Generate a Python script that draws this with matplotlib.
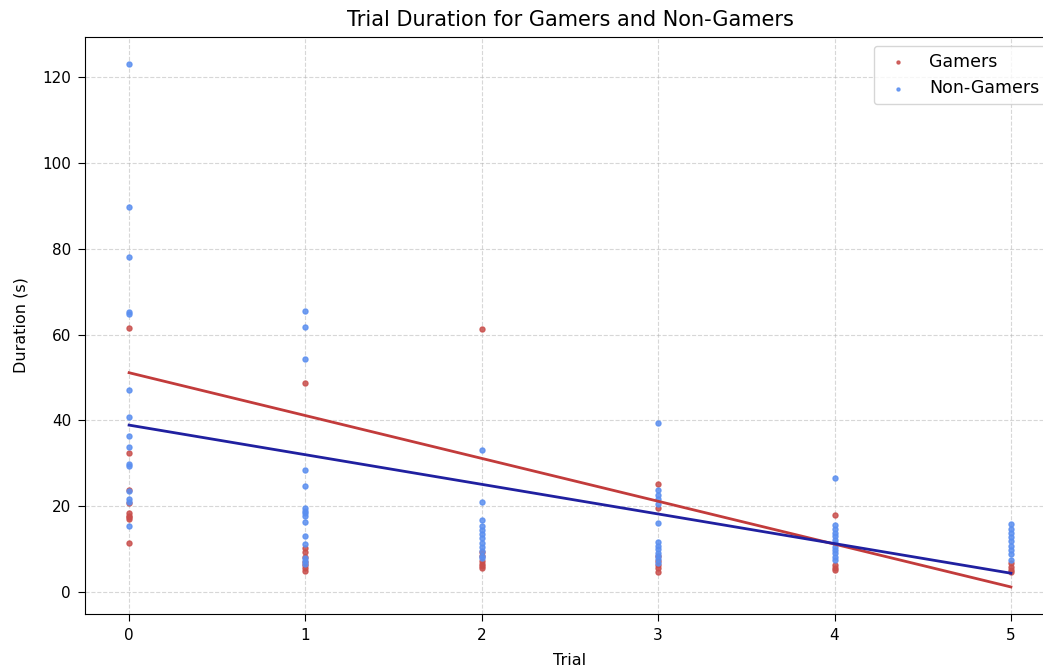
import numpy as np
import matplotlib.pyplot as plt

trials = [0, 1, 2, 3, 4, 5]

# trial durations (s) per trial
gamers = {
    0: [61.6, 32.5, 23.9, 20.7, 18.4, 17.8, 17.5, 17.0, 11.5],
    1: [48.6, 10.2, 9.4, 8.2, 7.0, 6.2, 5.5, 5.0],
    2: [61.4, 9.3, 8.5, 7.2, 6.5, 6.0, 5.5],
    3: [25.1, 19.7, 8.5, 7.2, 6.2, 5.5, 4.8],
    4: [17.9, 6.3, 5.6, 5.1],
    5: [6.7, 5.8, 5.2, 4.8],
}
non_gamers = {
    0: [123.1, 89.8, 78.0, 65.3, 64.7, 47.1, 40.7, 36.3, 33.7, 29.8, 29.4, 23.6, 21.6, 20.9, 15.4],
    1: [65.5, 61.7, 54.4, 28.4, 24.7, 19.7, 19.0, 18.5, 17.8, 16.4, 13.0, 11.3, 8.0, 7.3, 6.5],
    2: [33.1, 20.9, 16.9, 15.5, 14.5, 13.5, 12.5, 11.5, 10.5, 9.5, 8.5, 7.9],
    3: [39.5, 23.8, 22.6, 21.7, 20.5, 16.1, 11.7, 10.8, 10.0, 9.2, 8.4, 7.6, 6.7],
    4: [26.6, 15.6, 14.6, 13.8, 13.0, 12.2, 11.4, 10.6, 9.8, 9.0, 8.2, 7.5],
    5: [15.8, 14.8, 13.8, 12.8, 11.8, 10.8, 9.8, 8.8, 7.5],
}

# linear fit: intercept, slope
gamers_fit = [51.1, -9.98]
non_gamers_fit = [38.9, -6.9]


def flatten(d):
    xs, ys = [], []
    for t in trials:
        xs += [t] * len(d[t])
        ys += d[t]
    return np.array(xs), np.array(ys)


fig = plt.figure(figsize=(10.43, 6.69), dpi=100)
ax = fig.add_axes([0.0815, 0.0822, 0.93, 0.8625])

gx, gy = flatten(gamers)
nx, ny = flatten(non_gamers)
ax.scatter(gx, gy, s=13, color='#c94f4c', alpha=0.85, label='Gamers', zorder=3)
ax.scatter(nx, ny, s=13, color='#5b8ff0', alpha=0.85, label='Non-Gamers', zorder=3)

xl = np.array([trials[0], trials[-1]])
ax.plot(xl, gamers_fit[0] + gamers_fit[1] * xl, color='#c23b3b', lw=2, zorder=4)
ax.plot(xl, non_gamers_fit[0] + non_gamers_fit[1] * xl, color='#2020a0', lw=2, zorder=4)

ax.set_xlim(-0.25, 5.25)
ax.set_ylim(-5.1, 129.3)
ax.set_xticks(trials)
ax.tick_params(labelsize=11, length=5, pad=5)
ax.grid(True, linestyle='--', alpha=0.5, zorder=0)
ax.set_axisbelow(True)
ax.set_title('Trial Duration for Gamers and Non-Gamers', fontsize=15, pad=8)
ax.set_xlabel('Trial', fontsize=11.5, labelpad=7)
ax.set_ylabel('Duration (s)', fontsize=11.5, labelpad=10)
ax.legend(loc='upper right', fontsize=12.5, markerscale=0.6)

fig.savefig('out.png', dpi=100)
